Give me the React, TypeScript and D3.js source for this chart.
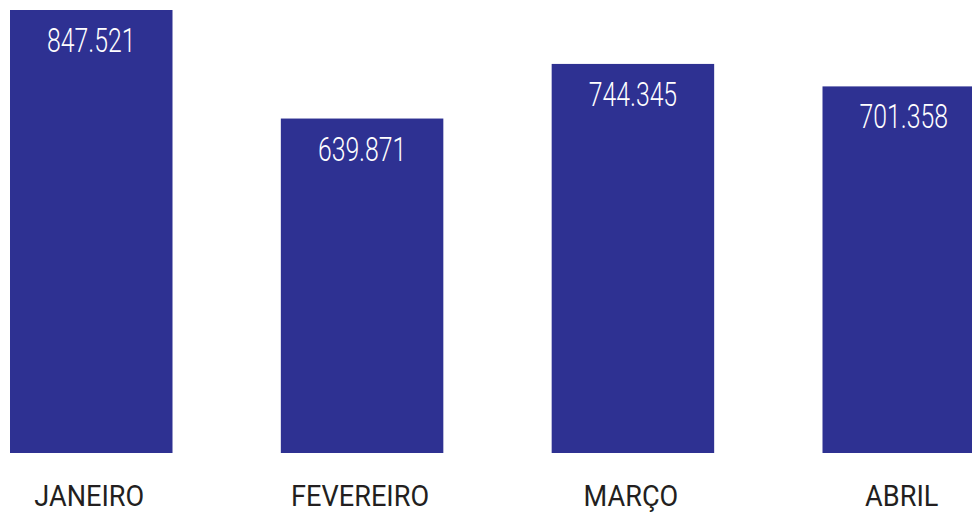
import React, { useRef, useEffect } from 'react';
import * as d3 from 'd3';

const months = ['JANEIRO', 'FEVEREIRO', 'MARÇO', 'ABRIL'];
const totals = [847521, 639871, 744345, 701358];
const totalLabels = ['847.521', '639.871', '744.345', '701.358'];

export default function App() {
  const ref = useRef<SVGSVGElement>(null);

  useEffect(() => {
    const barBottom = 453;
    const barTop = 10;
    const font = "Roboto, 'DejaVu Sans', sans-serif";

    const svg = d3.select(ref.current);
    svg.selectAll('*').remove();

    // step ~270, bar 162 wide; the last bar runs off the right edge like the original
    const x = d3.scaleBand<string>()
      .domain(months)
      .range([10, 985])
      .paddingInner(0.4)
      .paddingOuter(0);

    const y = d3.scaleLinear()
      .domain([0, d3.max(totals) as number])
      .range([barBottom, barTop]);

    const rows = months.map((m, i) => ({ m, v: totals[i], label: totalLabels[i] }));
    const cx = (d: { m: string }) => x(d.m)! + x.bandwidth() / 2;

    svg.append('g')
      .selectAll('rect')
      .data(rows)
      .join('rect')
      .attr('x', d => x(d.m)!)
      .attr('y', d => y(d.v))
      .attr('width', x.bandwidth())
      .attr('height', d => barBottom - y(d.v))
      .attr('fill', '#2e3192');

    // narrow font look: squeeze horizontally
    svg.append('g')
      .selectAll('text')
      .data(rows)
      .join('text')
      .attr('transform', d => `translate(${cx(d)},${y(d.v) + 42}) scale(0.74,1)`)
      .attr('text-anchor', 'middle')
      .attr('fill', '#ffffff')
      .attr('font-family', font)
      .attr('font-weight', 300)
      .attr('font-size', 33.5)
      .text(d => d.label);

    svg.append('g')
      .selectAll('text')
      .data(rows)
      .join('text')
      .attr('transform', d => `translate(${cx(d) - 2},506) scale(0.92,1)`)
      .attr('text-anchor', 'middle')
      .attr('fill', '#231f20')
      .attr('font-family', font)
      .attr('font-size', 29.5)
      .text(d => d.m);
  }, []);

  return (
    <div style={{ position: 'absolute', left: 0, top: 0 }}>
      <svg ref={ref} width={972} height={516} style={{ display: 'block', background: '#fff' }} />
    </div>
  );
}
